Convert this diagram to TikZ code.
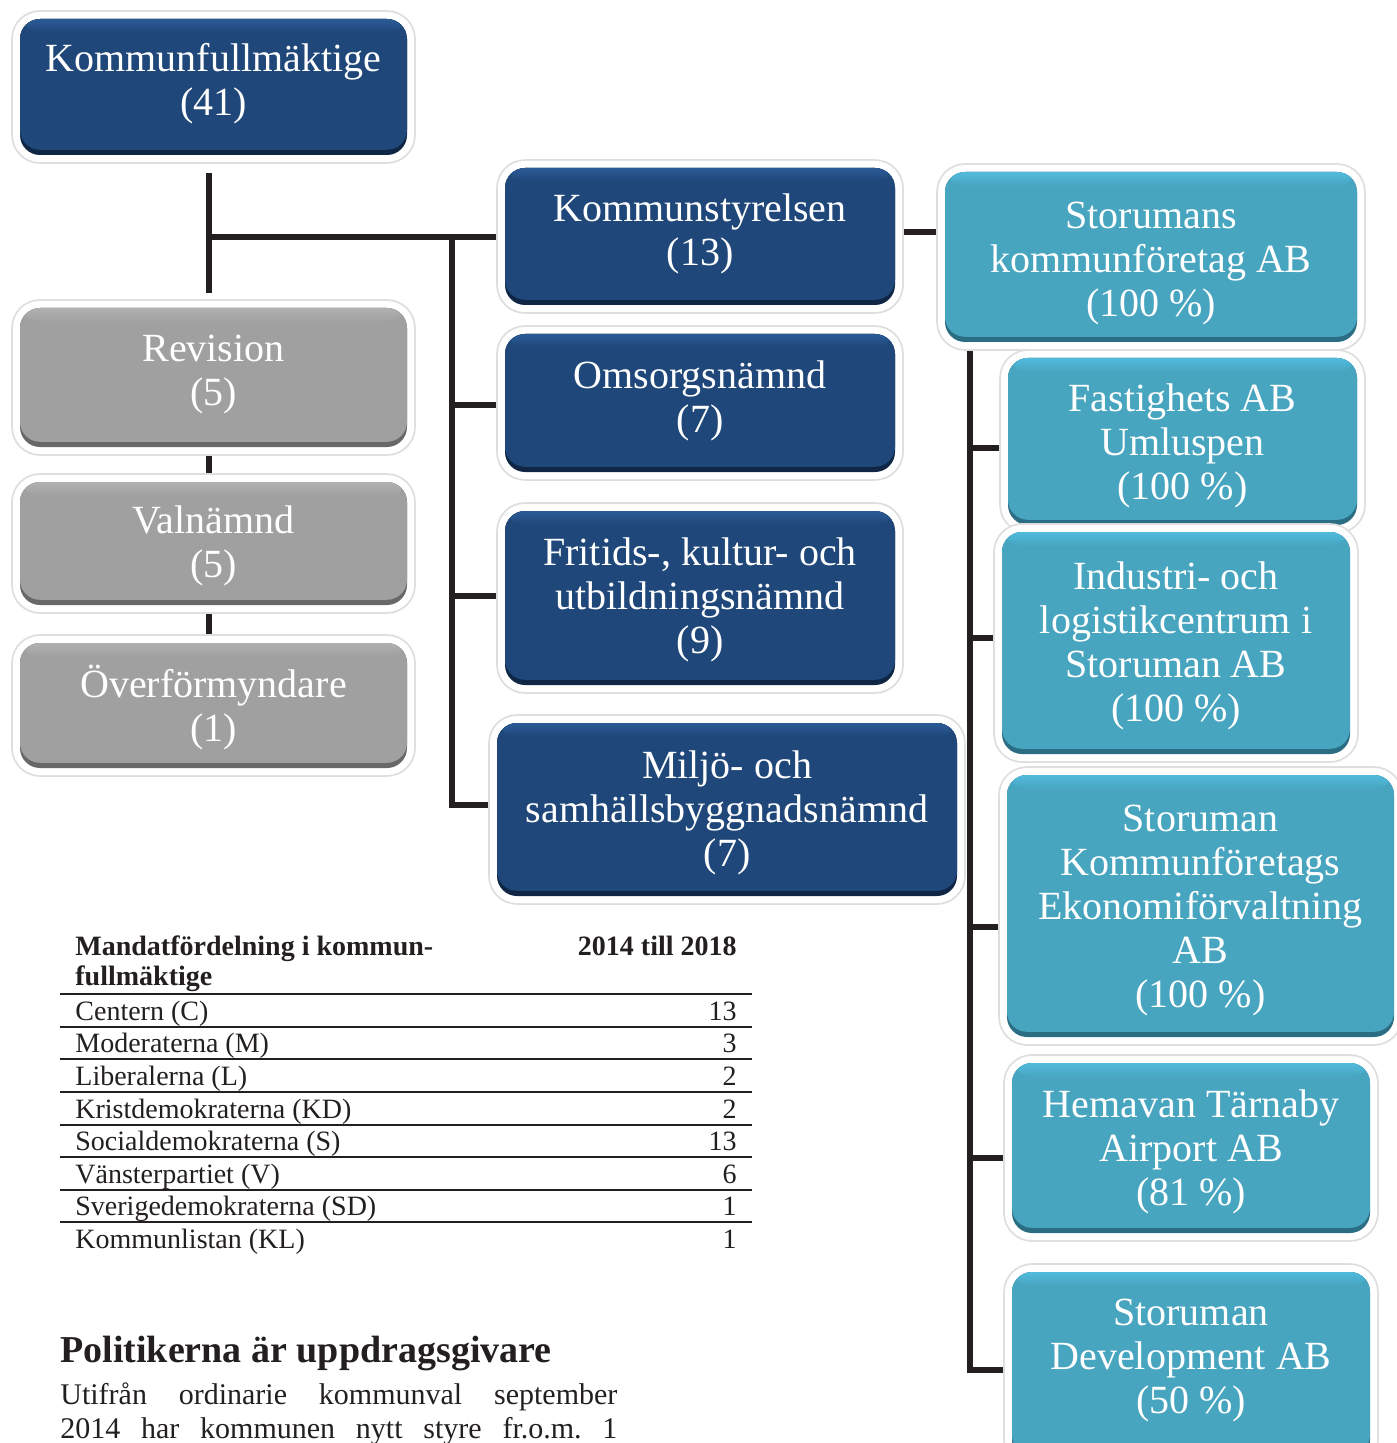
\documentclass[tikz,border=0pt]{standalone}
\usepackage{fontspec}
\setmainfont{Liberation Serif}
\usetikzlibrary{backgrounds}
\definecolor{navyfill}{HTML}{1F4779}
\definecolor{navytop}{HTML}{2A5A95}
\definecolor{navydark}{HTML}{0F2645}
\definecolor{tealfill}{HTML}{47A5C0}
\definecolor{tealtop}{HTML}{52BADC}
\definecolor{tealdark}{HTML}{2B6E84}
\definecolor{greyfill}{HTML}{A0A0A0}
\definecolor{greytop}{HTML}{B0B0B0}
\definecolor{greydark}{HTML}{686868}
\definecolor{ink}{HTML}{231F20}
\tikzset{
  x=0.5pt, y=-0.5pt,
  orgbox/.style n args={3}{
    rounded corners=10pt, inner sep=0pt, outer sep=0pt,
    preaction={draw=black!13, line width=8.8pt},
    preaction={draw=white, line width=7pt},
    fill=#3,
    path picture={
      \fill[#2, rounded corners=10pt]
        ([yshift=2.6pt]path picture bounding box.south west) rectangle
        (path picture bounding box.north east);
      \shade[top color=#1, bottom color=#2]
        (path picture bounding box.north west) rectangle
        ([yshift=-7pt]path picture bounding box.north east);
    }
  },
  navybox/.style={orgbox={navytop}{navyfill}{navydark}},
  tealbox/.style={orgbox={tealtop}{tealfill}{tealdark}},
  greybox/.style={orgbox={greytop}{greyfill}{greydark}},
  boxtext/.style={text=white, align=center, inner sep=0pt,
    font=\fontsize{20}{22}\selectfont},
  conn/.style={draw=ink, line width=2.6pt},
  rule/.style={draw=ink, line width=1pt},
  tabtext/.style={text=ink, inner sep=0pt, font=\fontsize{14}{15}\selectfont},
  tabhead/.style={text=ink, inner sep=0pt, font=\bfseries\fontsize{14}{15}\selectfont}
}
% name, style, x1, y1, x2, y2, text y, text
\newcommand\orgbox[8]{%
  \node[#2, minimum width={(#5-#3)*0.5pt}, minimum height={(#6-#4)*0.5pt}]
    (#1) at ({(#3+#5)/2},{(#4+#6)/2}) {};
  \node[boxtext] (#1-t) at ({(#3+#5)/2},{#7+4.5}) {#8};
}
\begin{document}
\begin{tikzpicture}
\useasboundingbox (0,0) rectangle (1396,1443);

% --- left column
\orgbox{kf}{navybox}{20}{19}{407}{155}{79}{Kommunfullmäktige\\(41)}
\orgbox{rev}{greybox}{20}{308}{407}{447}{370}{Revision\\(5)}
\orgbox{val}{greybox}{20}{482}{407}{605}{541}{Valnämnd\\(5)}
\orgbox{ovf}{greybox}{20}{643}{407}{768}{703}{Överförmyndare\\(1)}

% --- middle column
\orgbox{ks}{navybox}{505}{168}{895}{305}{229}{Kommunstyrelsen\\(13)}
\orgbox{oms}{navybox}{505}{334}{895}{472}{396}{Omsorgsnämnd\\(7)}
\orgbox{fri}{navybox}{505}{511}{895}{685}{595}{Fritids-, kultur- och\\utbildningsnämnd\\(9)}
\orgbox{mil}{navybox}{497}{723}{957}{896}{808}{Miljö- och\\samhällsbyggnadsnämnd\\(7)}

% --- right column
\orgbox{skab}{tealbox}{945}{172}{1357}{342}{259}{Storumans\\kommunföretag AB\\(100 \%)}
\orgbox{fast}{tealbox}{1008}{358}{1357}{525}{441}{Fastighets AB\\Umluspen\\(100 \%)}
\orgbox{ind}{tealbox}{1002}{532}{1350}{754}{641}{Industri- och\\logistikcentrum i\\Storuman AB\\(100 \%)}
\orgbox{eko}{tealbox}{1007}{775}{1394}{1037}{906}{Storuman\\Kommunföretags\\Ekonomiförvaltning\\AB\\(100 \%)}
\orgbox{hem}{tealbox}{1012}{1063}{1370}{1233}{1147}{Hemavan Tärnaby\\Airport AB\\(81 \%)}
\orgbox{dev}{tealbox}{1012}{1272}{1370}{1460}{1356}{Storuman\\Development AB\\(50 \%)}

\coordinate (lx) at (209,237);
\coordinate (mx) at (452,237);
\coordinate (rx) at (970,342);

\begin{scope}[on background layer]
  \fill[white] (0,0) rectangle (1396,1443);
  % left
  \draw[conn, shorten <=9pt, shorten >=7.5pt] (kf.south -| lx) -- (rev.north -| lx);
  \draw[conn] (lx) -- (ks.west |- lx);
  \draw[conn, shorten <=3.5pt, shorten >=3.5pt] (rev.south -| lx) -- (val.north -| lx);
  \draw[conn, shorten <=3.5pt, shorten >=3.5pt] (val.south -| lx) -- (ovf.north -| lx);
  % middle
  \draw[conn] (mx) |- (mil.west |- 0,805);
  \draw[conn] (mx |- 0,405) -- (oms.west |- 0,405);
  \draw[conn] (mx |- 0,596) -- (fri.west |- 0,596);
  \draw[conn] (ks.east |- 0,232) -- (skab.west |- 0,232);
  % right
  \draw[conn] (rx |- skab.south) |- (dev.west |- 0,1370);
  \draw[conn] (rx |- 0,448) -- (fast.west |- 0,448);
  \draw[conn] (rx |- 0,638) -- (ind.west |- 0,638);
  \draw[conn] (rx |- 0,927) -- (eko.west |- 0,927);
  \draw[conn] (rx |- 0,1158) -- (hem.west |- 0,1158);
\end{scope}

% --- table
\node[tabhead, anchor=base west] (h1) at (75,955) {Mandatfördelning i kommun-};
\node[tabhead, anchor=base west] (h2) at (75,985) {fullmäktige};
\node[tabhead, anchor=base east] (h3) at (737,955) {2014 till 2018};
\foreach \y in {994,1027,1059,1092,1125,1157,1190,1222}
  \draw[rule] (60,\y) -- (752,\y);
\foreach \p/\n/\b [count=\i] in {Centern (C)/13/1020, Moderaterna (M)/3/1052,
  Liberalerna (L)/2/1085, Kristdemokraterna (KD)/2/1118,
  Socialdemokraterna (S)/13/1150, Vänsterpartiet (V)/6/1183,
  Sverigedemokraterna (SD)/1/1215, Kommunlistan (KL)/1/1248}{
  \node[tabtext, anchor=base west] (party\i) at (75,\b) {\p};
  \node[tabtext, anchor=base east] (seats\i) at (737,\b) {\n};
}

% --- text below
\node[text=ink, inner sep=0pt, anchor=base west, font=\bfseries\fontsize{19}{22}\selectfont]
  (head) at (60,1362) {Politikerna är uppdragsgivare};
\node[text=ink, inner sep=0pt, anchor=north west, align=left, font=\fontsize{15}{17}\selectfont]
  (body) at (60,1382) {\frenchspacing\makebox[278.5pt][s]{Utifrån ordinarie kommunval september}\\
  \makebox[278.5pt][s]{\frenchspacing 2014 har kommunen nytt styre fr.o.m. 1}};
\end{tikzpicture}
\end{document}
